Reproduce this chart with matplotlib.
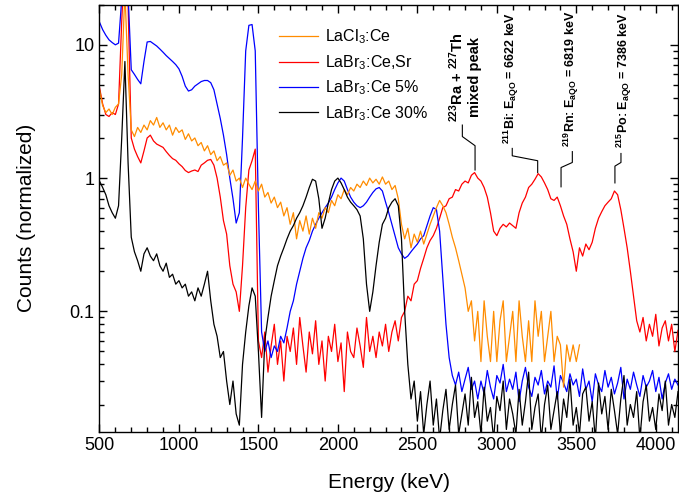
# ============================================================
# Normalized alpha spectra of four scintillators (log scale)
# ============================================================

import numpy as np
import matplotlib.pyplot as plt
from matplotlib.ticker import MultipleLocator, LogLocator, FixedLocator, FixedFormatter, NullFormatter

plt.rcParams['font.family'] = ['Liberation Sans', 'DejaVu Sans']
plt.rcParams['mathtext.fontset'] = 'custom'
plt.rcParams['mathtext.rm'] = 'Liberation Sans'
plt.rcParams['mathtext.it'] = 'Liberation Sans:italic'
plt.rcParams['mathtext.bf'] = 'Liberation Sans:bold'
plt.rcParams['mathtext.default'] = 'regular'

# ------------------------------------------------------------
# DATA — energy channels (keV) and counts
# ------------------------------------------------------------
energy = np.arange(500, 4141, 20)

lacl3_ce = [
    4.6, 3.5, 3.1, 3.3, 3.0, 3.4, 3.6, 6.0, 25, 6.0,
    2.3, 2.05, 2.4, 2.2, 2.5, 2.3, 2.7, 2.5, 2.85, 2.4,
    2.6, 2.3, 2.5, 2.1, 2.4, 2.2, 2.3, 1.95, 2.15, 1.9,
    2.0, 1.75, 1.85, 1.6, 1.75, 1.5, 1.6, 1.35, 1.45, 1.25,
    1.3, 1.05, 1.15, 0.95, 1.0, 0.85, 1.0, 0.9, 0.82, 0.95,
    0.8, 0.9, 0.72, 0.78, 0.65, 0.72, 0.6, 0.66, 0.52, 0.6,
    0.45, 0.55, 0.35, 0.48, 0.4, 0.52, 0.38, 0.5, 0.42, 0.55,
    0.5, 0.6, 0.55, 0.68, 0.62, 0.75, 0.7, 0.82, 0.75, 0.85,
    0.8, 0.9, 0.85, 0.95, 0.88, 1.0, 0.92, 0.98, 0.9, 1.02,
    0.9, 0.95, 0.82, 0.88, 0.7, 0.45, 0.35, 0.42, 0.3, 0.38,
    0.33, 0.4, 0.32, 0.38, 0.45, 0.52, 0.6, 0.68, 0.62, 0.55,
    0.45, 0.36, 0.3, 0.24, 0.19, 0.15, 0.1, 0.12, 0.06, 0.1,
    0.042, 0.12, 0.065, 0.042, 0.1, 0.042, 0.085, 0.12, 0.042, 0.065,
    0.1, 0.042, 0.12, 0.065, 0.042, 0.085, 0.042, 0.12, 0.065, 0.1,
    0.042, 0.065, 0.1, 0.042, 0.065, 0.056, 0.027, 0.056, 0.042, 0.056,
    0.042, 0.056, np.nan, np.nan, np.nan, np.nan, np.nan, np.nan, np.nan, np.nan,
    np.nan, np.nan, np.nan, np.nan, np.nan, np.nan, np.nan, np.nan, np.nan, np.nan,
    np.nan, np.nan, np.nan, np.nan, np.nan, np.nan, np.nan, np.nan, np.nan, np.nan,
    np.nan, np.nan, np.nan,
]

labr3_ce_sr = [
    4.8, 3.6, 3.0, 2.9, 3.1, 3.0, 3.6, 15, 50, 20,
    2.0, 1.65, 1.45, 1.3, 1.6, 2.0, 2.1, 1.9, 1.8, 1.75,
    1.7, 1.58, 1.48, 1.4, 1.36, 1.28, 1.22, 1.14, 1.1, 1.13,
    1.15, 1.12, 1.25, 1.3, 1.36, 1.38, 1.25, 1.0, 0.72, 0.48,
    0.38, 0.22, 0.16, 0.14, 0.1, 0.22, 0.6, 1.15, 1.35, 1.65,
    0.06, 0.045, 0.07, 0.035, 0.055, 0.08, 0.04, 0.06, 0.03, 0.065,
    0.05, 0.075, 0.04, 0.09, 0.055, 0.035, 0.07, 0.048, 0.085, 0.04,
    0.06, 0.03, 0.065, 0.05, 0.08, 0.042, 0.058, 0.025, 0.07, 0.05,
    0.045, 0.075, 0.055, 0.038, 0.09, 0.05, 0.065, 0.045, 0.07, 0.055,
    0.08, 0.05, 0.07, 0.085, 0.06, 0.09, 0.1, 0.13, 0.12, 0.16,
    0.17, 0.21, 0.25, 0.3, 0.34, 0.37, 0.42, 0.5, 0.6, 0.62,
    0.7, 0.72, 0.82, 0.8, 0.9, 0.95, 0.92, 1.05, 1.1, 1.0,
    0.95, 0.85, 0.72, 0.55, 0.4, 0.37, 0.42, 0.45, 0.43, 0.46,
    0.44, 0.42, 0.55, 0.65, 0.72, 0.85, 0.9, 0.98, 1.08, 1.02,
    0.92, 0.82, 0.7, 0.68, 0.72, 0.62, 0.52, 0.45, 0.35, 0.28,
    0.2, 0.3, 0.26, 0.32, 0.29, 0.33, 0.42, 0.5, 0.56, 0.62,
    0.66, 0.7, 0.8, 0.75, 0.58, 0.42, 0.3, 0.2, 0.13, 0.085,
    0.07, 0.09, 0.06, 0.08, 0.065, 0.095, 0.055, 0.075, 0.085, 0.06,
    0.08, 0.05, 0.072,
]

labr3_ce_5 = [
    14.8, 13.0, 11.8, 10.9, 10.4, 10.0, 10.3, 22, 60, 24,
    6.5, 6.0, 5.5, 5.1, 7.5, 10.5, 10.6, 10.2, 9.8, 9.3,
    8.8, 8.3, 7.9, 7.5, 7.1, 6.6, 5.8, 4.9, 4.5, 4.6,
    4.9, 5.1, 5.3, 5.4, 5.4, 5.2, 4.6, 3.6, 2.8, 2.1,
    1.5, 1.0, 0.7, 0.46, 0.55, 2.0, 9.0, 14.0, 14.2, 9.0,
    0.6, 0.07, 0.05, 0.06, 0.045, 0.055, 0.05, 0.065, 0.058, 0.075,
    0.1, 0.12, 0.16, 0.2, 0.25, 0.3, 0.34, 0.4, 0.45, 0.5,
    0.55, 0.6, 0.65, 0.72, 0.82, 0.92, 1.0, 0.95, 0.82, 0.72,
    0.66, 0.62, 0.6, 0.62, 0.66, 0.72, 0.78, 0.83, 0.85, 0.8,
    0.66, 0.55, 0.45, 0.37, 0.3, 0.27, 0.25, 0.26, 0.28, 0.3,
    0.32, 0.35, 0.37, 0.44, 0.52, 0.6, 0.58, 0.4, 0.18, 0.08,
    0.045, 0.033, 0.028, 0.035, 0.025, 0.031, 0.038, 0.026, 0.03, 0.022,
    0.03, 0.024, 0.036, 0.027, 0.022, 0.033, 0.029, 0.04, 0.025, 0.031,
    0.026, 0.035, 0.021, 0.03, 0.038, 0.027, 0.023, 0.032, 0.028, 0.036,
    0.024, 0.03, 0.027, 0.039, 0.022, 0.033, 0.029, 0.025, 0.034, 0.028,
    0.031, 0.023, 0.037, 0.026, 0.03, 0.021, 0.034, 0.028, 0.025, 0.036,
    0.027, 0.032, 0.024, 0.029, 0.038, 0.022, 0.031, 0.026, 0.035, 0.028,
    0.023, 0.033, 0.027, 0.03, 0.036, 0.025, 0.032, 0.022, 0.029, 0.034,
    0.026, 0.031, 0.028,
]

labr3_ce_30 = [
    0.95, 0.85, 0.75, 0.62, 0.55, 0.5, 0.62, 2.0, 7.5, 1.3,
    0.36, 0.28, 0.24, 0.2, 0.27, 0.3, 0.26, 0.24, 0.27, 0.22,
    0.2, 0.23, 0.18, 0.19, 0.16, 0.17, 0.15, 0.16, 0.13, 0.14,
    0.12, 0.15, 0.13, 0.16, 0.2, 0.12, 0.08, 0.065, 0.045, 0.05,
    0.03, 0.02, 0.03, 0.017, 0.014, 0.04, 0.07, 0.11, 0.15, 0.13,
    0.05, 0.016, 0.06, 0.09, 0.13, 0.17, 0.22, 0.26, 0.3, 0.35,
    0.4, 0.44, 0.5, 0.55, 0.62, 0.72, 0.85, 0.98, 0.95, 0.7,
    0.42, 0.5, 0.65, 0.82, 0.95, 1.0, 0.92, 0.82, 0.72, 0.66,
    0.62, 0.58, 0.52, 0.35, 0.16, 0.1, 0.14, 0.22, 0.33, 0.45,
    0.5, 0.6, 0.66, 0.7, 0.62, 0.35, 0.1, 0.04, 0.022, 0.03,
    0.015, 0.025, 0.012, 0.02, 0.03, 0.014, 0.022, 0.011, 0.018, 0.026,
    0.013, 0.02, 0.028, 0.012, 0.017, 0.024, 0.014, 0.032, 0.016, 0.021,
    0.012, 0.027, 0.015, 0.019, 0.011, 0.023, 0.018, 0.03, 0.013, 0.022,
    0.017, 0.012, 0.026, 0.014, 0.021, 0.035, 0.013, 0.019, 0.024, 0.011,
    0.02, 0.028, 0.013, 0.018, 0.025, 0.012, 0.022, 0.016, 0.031, 0.014,
    0.019, 0.012, 0.024, 0.027, 0.015, 0.021, 0.011, 0.029, 0.017, 0.023,
    0.013, 0.026, 0.018, 0.012, 0.022, 0.033, 0.014, 0.02, 0.016, 0.025,
    0.011, 0.021, 0.028, 0.015, 0.019, 0.013, 0.024, 0.018, 0.03, 0.014,
    0.02, 0.016, 0.025,
]

series_labels = ["LaCl$_3$:Ce", "LaBr$_3$:Ce,Sr", "LaBr$_3$:Ce 5%", "LaBr$_3$:Ce 30%"]
series_colors = ["#ff8c00", "#ff0000", "#0000ff", "#000000"]

# peak labels: text, text anchor (keV, counts), font size, leader line (keV, counts)
peak_texts = [
    "$^{223}$Ra + $^{227}$Th\nmixed peak",
    "$^{211}$Bi: E$_{aQO}$ = 6622 keV",
    "$^{219}$Rn: E$_{aQO}$ = 6819 keV",
    "$^{215}$Po: E$_{aQO}$ = 7386 keV",
]
peak_text_pos = [(2800, 2.65), (3094, 1.80), (3468, 1.72), (3805, 1.69)]
peak_text_size = [10.5, 9, 9, 9]
peak_lines_e = [[2783, 2783, 2863, 2863], [3097, 3097, 3257, 3257],
                [3475, 3475, 3404, 3404], [3781, 3781, 3743, 3743]]
peak_lines_c = [[2.50, 2.05, 1.75, 1.15], [1.67, 1.47, 1.35, 1.10],
                [1.58, 1.31, 1.20, 0.86], [1.53, 1.31, 1.23, 0.92]]

XLIM = (500, 4138)
YLIM = (0.0125, 20)


def main():
    fig = plt.figure(figsize=(6.79, 5.01), dpi=100)
    ax = fig.add_axes([0.1465, 0.1383, 0.8516, 0.8523])

    data = [lacl3_ce, labr3_ce_sr, labr3_ce_5, labr3_ce_30]
    handles = [None] * 4
    for i in [1, 2, 0, 3]:          # draw order as in the original
        h, = ax.plot(energy, data[i], color=series_colors[i], lw=0.9,
                     label=series_labels[i])
        handles[i] = h

    ax.set_yscale("log")
    ax.set_xlim(*XLIM)
    ax.set_ylim(*YLIM)

    ax.xaxis.set_major_locator(MultipleLocator(500))
    ax.xaxis.set_minor_locator(MultipleLocator(100))
    ax.yaxis.set_major_locator(FixedLocator([0.1, 1, 10]))
    ax.yaxis.set_major_formatter(FixedFormatter(["0.1", "1", "10"]))
    ax.yaxis.set_minor_locator(LogLocator(base=10, subs=np.arange(2, 10)))
    ax.yaxis.set_minor_formatter(NullFormatter())

    ax.tick_params(which="both", direction="in", top=True, right=True,
                   labelsize=13, width=1.0)
    ax.tick_params(which="major", length=6)
    ax.tick_params(which="minor", length=3.5)
    for s in ax.spines.values():
        s.set_linewidth(1.0)

    ax.set_xlabel("Energy (keV)", fontsize=15, labelpad=14)
    ax.set_ylabel("Counts (normalized)", fontsize=15, labelpad=24)

    ax.legend(handles=handles, loc="upper left", bbox_to_anchor=(0.3, 0.961),
              frameon=False, fontsize=11.5, handlelength=2.4,
              handletextpad=0.45, labelspacing=0.42, borderaxespad=0)

    for txt, (xe, yc), fs, le, lc in zip(peak_texts, peak_text_pos, peak_text_size,
                                          peak_lines_e, peak_lines_c):
        ax.text(xe, yc, txt, rotation=90, ha="center", va="bottom",
                fontsize=fs, fontweight="bold", multialignment="center")
        ax.plot(le, lc, color="black", lw=0.8)

    fig.savefig("out.png", dpi=100)


if __name__ == "__main__":
    main()
